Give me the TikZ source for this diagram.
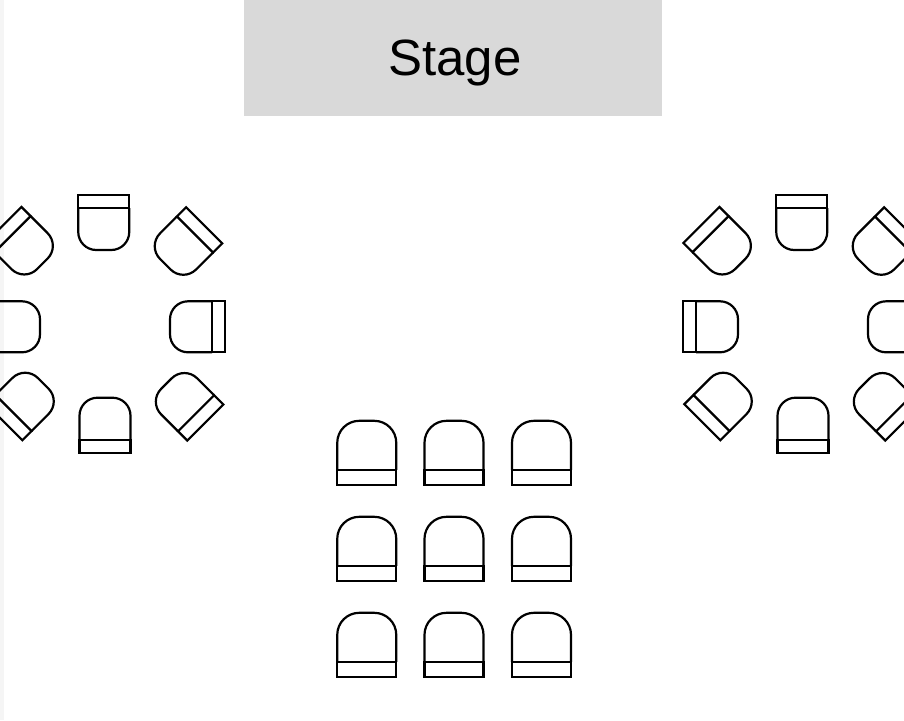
\documentclass[tikz,border=0pt]{standalone}
\usepackage{fontspec}
\setmainfont{Liberation Sans}
\definecolor{stagegray}{HTML}{D9D9D9}
\definecolor{stripgray}{HTML}{F5F5F5}
\tikzset{
    stagebox/.style={rectangle, fill=stagegray, inner sep=0pt, minimum width=418pt, minimum height=116pt},
    stagetext/.style={inner sep=0pt, anchor=base, font=\fontsize{51}{51}\selectfont},
    seatline/.style={draw=black, line width=2.2pt},
    pics/chair/.style n args={4}{code={
        \draw[seatline, rounded corners=#4pt] (-#1/2,-#3) -- (-#1/2,-#2) -- (#1/2,-#2) -- (#1/2,-#3);
        \draw[seatline] (-#1/2,0) rectangle (#1/2,-#3);
    }}
}
\begin{document}
\begin{tikzpicture}[x=1pt, y=-1pt]
    \useasboundingbox (0,0) rectangle (904,720);
    \clip (0,0) rectangle (904,720);
    \fill[white] (0,0) rectangle (904,720);
    \fill[stripgray] (0,0) rectangle (4,720);

    % Stage
    \node[stagebox] (stage) at (453,58) {};
    \node[stagetext] (stagelabel) at (455,75) {Stage};

    % Table groups
    \foreach \dx in {0,698} {
        \begin{scope}[xshift=\dx pt]
            \foreach \cx/\cy/\ang in {103.75/195/180, 105/452.7/0, 225/326.8/90, -15/326.8/-90,
                204.2/225.3/135, 205.3/422.5/45, 3.4/225/-135, 4.3/422.2/-45} {
                \pic[rotate=\ang] at (\cx,\cy) {chair={51}{55}{13}{18}};
            }
        \end{scope}
    }

    % Audience rows
    \foreach \cx in {366.75,454,541.5} {
        \foreach \cy in {485.3,581.3,677.3} {
            \pic at (\cx,\cy) {chair={59}{64.5}{15.5}{22}};
        }
    }
\end{tikzpicture}
\end{document}
